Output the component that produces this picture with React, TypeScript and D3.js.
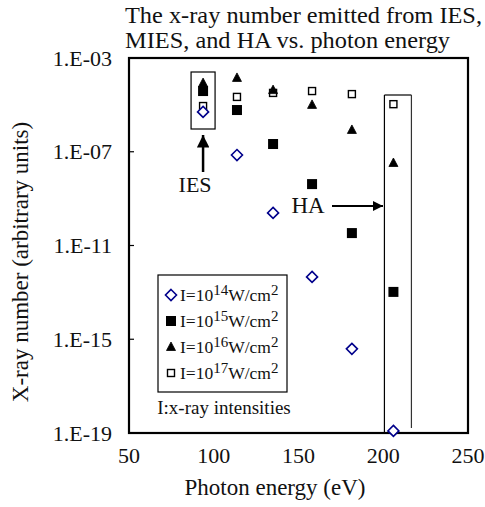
import React from "react";
import * as d3 from "d3";

const energies = [93.7, 113.7, 135, 158, 181.5, 206];
const i14 = [-5.3, -7.14, -9.61, -12.34, -15.41, -18.91];
const i15 = [-4.41, -5.22, -6.67, -8.38, -10.47, -12.98];
const i16 = [-4.07, -3.85, -4.37, -5.0, -6.07, -7.48];
const i17 = [-5.05, -4.66, -4.49, -4.41, -4.54, -4.97];
const xTicks = [50, 100, 150, 200, 250];
const yTicks = [1e-3, 1e-7, 1e-11, 1e-15, 1e-19];
const yTickLabels = ["1.E-03", "1.E-07", "1.E-11", "1.E-15", "1.E-19"];
const legendExps = ["14", "15", "16", "17"];

const W = 485, H = 507;
const L = 129, R = 468, T = 58, B = 433;
const FONT = "'Liberation Serif', 'Times New Roman', serif";
const NAVY = "#00008B";

export default function App() {
  const x = d3.scaleLinear().domain([50, 250]).range([L, R]);
  const y = d3.scaleLog().domain([1e-19, 1e-3]).range([B, T]);
  const yv = (e: number) => y(Math.pow(10, e));

  const diamond = (cx: number, cy: number, key: string | number) => (
    <path key={key} d={`M${cx},${cy - 5.5}L${cx + 5.5},${cy}L${cx},${cy + 5.5}L${cx - 5.5},${cy}Z`}
      fill="white" stroke={NAVY} strokeWidth={1.6} />
  );
  const fsq = (cx: number, cy: number, key: string | number) => (
    <rect key={key} x={cx - 5} y={cy - 5} width={10} height={10} fill="black" />
  );
  const tri = (cx: number, cy: number, key: string | number) => (
    <path key={key} d={`M${cx},${cy - 5}L${cx + 4.5},${cy + 3.5}L${cx - 4.5},${cy + 3.5}Z`}
      fill="black" stroke="black" strokeWidth={0.8} />
  );
  const osq = (cx: number, cy: number, key: string | number) => (
    <rect key={key} x={cx - 3.5} y={cy - 3.5} width={7} height={7} fill="white" stroke="black" strokeWidth={1.4} />
  );

  const legendRows = [diamond, fsq, tri, osq];
  const iesX = x(energies[0]);
  const haX = x(energies[5]);

  return (
    <svg width={W} height={H} style={{ position: "absolute", left: 0, top: 0 }} fontFamily={FONT}>
      <defs>
        <marker id="ah" viewBox="0 0 10 10" refX="10" refY="5" markerWidth="5" markerHeight="5" orient="auto-start-reverse" markerUnits="strokeWidth">
          <path d="M0,0L10,5L0,10Z" fill="black" />
        </marker>
      </defs>
      <rect x={0} y={0} width={W} height={H} fill="white" />
      {/* title */}
      <text x={125} y={23} fontSize={24} fill="#111" textLength={357} lengthAdjust="spacingAndGlyphs">The x-ray number emitted from IES,</text>
      <text x={125} y={48} fontSize={24} fill="#111" textLength={325} lengthAdjust="spacingAndGlyphs">MIES, and HA vs. photon energy</text>

      {/* frame */}
      <rect x={L} y={T} width={R - L} height={B - T} fill="none" stroke="black" strokeWidth={2.2} />

      {/* y ticks */}
      {yTicks.map((t, i) => (
        <g key={i}>
          <line x1={L} x2={L + 5} y1={y(t)} y2={y(t)} stroke="black" strokeWidth={1.2} />
          <text x={112} y={y(t)} dy="0.35em" textAnchor="end" fontSize={22} fill="#111">{yTickLabels[i]}</text>
        </g>
      ))}
      {/* x ticks */}
      {xTicks.map((t) => (
        <text key={t} x={x(t)} y={B + 30} textAnchor="middle" fontSize={22} fill="#111">{t}</text>
      ))}

      {/* axis titles */}
      <text x={275} y={495} textAnchor="middle" fontSize={23} fill="#111">Photon energy (eV)</text>
      <text transform={`translate(28,262) rotate(-90)`} textAnchor="middle" fontSize={23} fill="#111">X-ray number (arbitrary units)</text>

      {/* IES box and arrow */}
      <rect x={iesX - 12} y={72} width={24} height={57} fill="none" stroke="black" strokeWidth={1.2} />
      <line x1={iesX} x2={iesX} y1={172} y2={135} stroke="black" strokeWidth={2.5} markerEnd="url(#ah)" />
      <text x={iesX - 8} y={192} textAnchor="middle" fontSize={22} fill="#111">IES</text>

      {/* HA box and arrow */}
      <line x1={haX - 9} x2={haX - 9} y1={95} y2={B} stroke="black" strokeWidth={1.2} />
      <line x1={haX - 9} x2={haX + 18} y1={95} y2={95} stroke="black" strokeWidth={1.2} />
      <line x1={haX + 18} x2={haX + 18} y1={95} y2={428} stroke="#333" strokeWidth={1.2} />
      <line x1={332} x2={383} y1={206} y2={206} stroke="black" strokeWidth={2} markerEnd="url(#ah)" />
      <text x={308} y={213} textAnchor="middle" fontSize={23} fill="#111">HA</text>

      {/* data */}
      {energies.map((e, i) => osq(x(e), yv(i17[i]), "o" + i))}
      {energies.map((e, i) => fsq(x(e), yv(i15[i]), "f" + i))}
      {energies.map((e, i) => tri(x(e), yv(i16[i]), "t" + i))}
      {energies.map((e, i) => diamond(x(e), yv(i14[i]), "d" + i))}

      {/* legend */}
      <rect x={158} y={275} width={129} height={117} fill="white" stroke="black" strokeWidth={1.2} />
      {legendExps.map((ex, i) => {
        const cy = 295 + i * 26;
        return (
          <g key={ex}>
            {legendRows[i](171, cy, "lg" + i)}
            <text x={180} y={cy + 6} fontSize={17.5} fill="#111">
              I=10<tspan dy={-6} fontSize={15}>{ex}</tspan>
              <tspan dy={6}>W/cm</tspan>
              <tspan dy={-6} fontSize={15}>2</tspan>
            </text>
          </g>
        );
      })}
      <text x={224} y={414} textAnchor="middle" fontSize={19} fill="#111">I:x-ray intensities</text>
    </svg>
  );
}
